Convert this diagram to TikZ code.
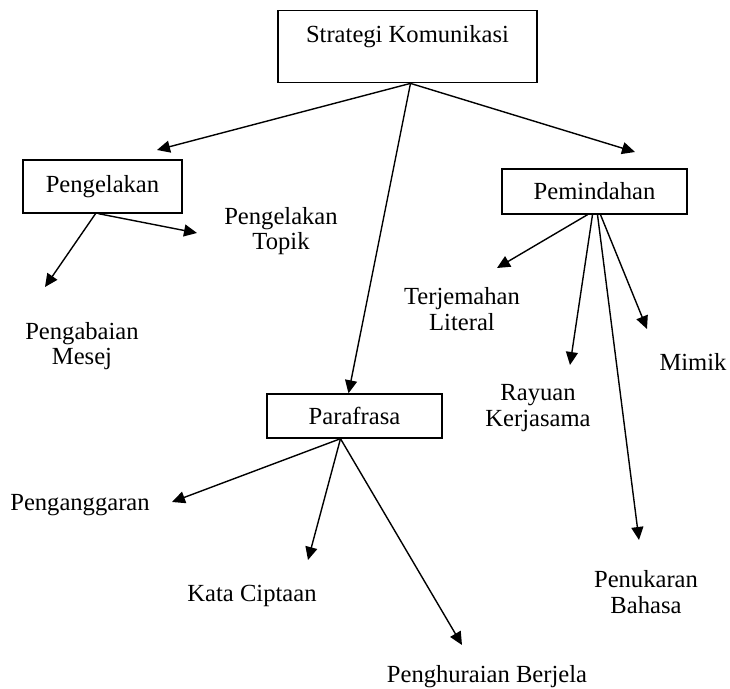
\documentclass[tikz,border=0pt]{standalone}
\usepackage{fontspec}
\setmainfont{Liberation Serif}
\usetikzlibrary{arrows.meta,calc}

\begin{document}
\begin{tikzpicture}[
    x=0.5pt, y=-0.5pt,
    box/.style={draw, line width=0.7pt, inner sep=0pt, align=center, font=\fontsize{12.3}{12.8}\selectfont},
    lbl/.style={align=center, inner sep=0pt, font=\fontsize{12.3}{12.8}\selectfont},
    arr/.style={-{Triangle[length=6.5pt, width=6pt]}, line width=0.7pt}
]
\useasboundingbox (0,0) rectangle (730,689);
\node[box, anchor=north, minimum width=129.5pt, text height=15.75pt, text depth=20.25pt] (strat) at (407.5,10) {Strategi Komunikasi};
\node[box, minimum width=79.5pt, minimum height=26.5pt] (pgl) at (102.5,186.5) {Pengelakan};
\node[box, minimum width=92.5pt, minimum height=22.5pt] (pmd) at (594.5,191.5) {Pemindahan};
\node[box, minimum width=87.5pt, minimum height=22pt] (para) at (354.5,416) {Parafrasa};

\node[lbl] (topik) at (281,231) {Pengelakan\\Topik};
\node[lbl] (mesej) at (82,346) {Pengabaian\\Mesej};
\node[lbl] (literal) at (462,309) {Terjemahan\\Literal};
\node[lbl] (mimik) at (693,362) {Mimik};
\node[lbl] (rayuan) at (538,408) {Rayuan\\Kerjasama};
\node[lbl] (bahasa) at (646,592) {Penukaran\\Bahasa};
\node[lbl] (anggar) at (80,505) {Penganggaran};
\node[lbl] (cipta) at (252,596) {Kata Ciptaan};
\node[lbl] (jela) at (487,677) {Penghuraian Berjela};

\coordinate (tpgl) at (157,150);
\coordinate (tpmd) at (635,152);
\coordinate (ttopik) at (197,233);
\coordinate (tmesej) at (45,287);
\coordinate (tliteral) at (497,268);
\coordinate (trayuan) at (570,365);
\coordinate (tbahasa) at (639,540);
\coordinate (tmimik) at (647,329);
\coordinate (tanggar) at (172,502);
\coordinate (tcipta) at (308,560);
\coordinate (tjela) at (462,645);

\draw[arr] ($(strat.south)+(3,0)$) -- (tpgl);
\draw[arr] ($(strat.south)+(3,0)$) -- ($(para.north)+(-6,0)$);
\draw[arr] ($(strat.south)+(3,0)$) -- (tpmd);
\draw[arr] ($(pgl.south)+(-7,0)$) -- (tmesej);
\draw[arr] ($(pgl.south)+(-4,0)$) -- (ttopik);
\draw[arr] ($(pmd.south)+(-7,0)$) -- (tliteral);
\draw[arr] ($(pmd.south)+(-2,0)$) -- (trayuan);
\draw[arr] ($(pmd.south)+(3,0)$) -- (tbahasa);
\draw[arr] ($(pmd.south)+(6,0)$) -- (tmimik);
\draw[arr] ($(para.south)+(-14,0)$) -- (tanggar);
\draw[arr] ($(para.south)+(-14,0)$) -- (tcipta);
\draw[arr] ($(para.south)+(-14,0)$) -- (tjela);
\end{tikzpicture}
\end{document}
